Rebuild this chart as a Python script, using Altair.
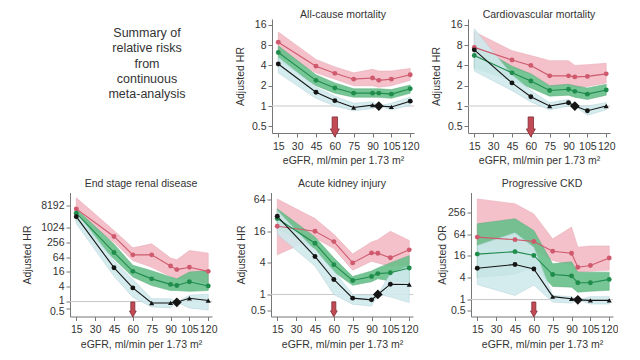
import altair as alt
import pandas as pd

# ---------------- data ----------------
egfr = [15, 45, 60, 75, 90, 95, 105, 120]
x_ticks = [15, 30, 45, 60, 75, 90, 105, 120]
summary_lines = ["Summary of", "relative risks", "from", "continuous", "meta-analysis"]

# All-cause mortality
acm_red = [8.8, 3.9, 3.05, 2.5, 2.6, 2.4, 2.5, 2.9]
acm_red_lo = [6.3, 3.1, 2.5, 2.0, 2.0, 1.9, 2.0, 2.4]
acm_red_hi = [12.5, 4.9, 3.8, 3.1, 3.5, 3.3, 3.3, 3.6]
acm_green = [6.2, 2.4, 1.85, 1.55, 1.55, 1.55, 1.5, 1.8]
acm_green_lo = [4.8, 2.0, 1.55, 1.35, 1.35, 1.35, 1.3, 1.55]
acm_green_hi = [7.8, 2.9, 2.2, 1.8, 1.8, 1.8, 1.75, 2.05]
acm_black = [4.2, 1.6, 1.2, 0.95, 1.03, 1.0, 0.97, 1.18]
acm_black_lo = [3.1, 1.3, 1.0, 0.85, 0.92, 1.0, 0.88, 1.02]
acm_black_hi = [5.3, 1.9, 1.4, 1.1, 1.15, 1.0, 1.1, 1.35]
acm_shape = ["c", "c", "c", "t", "t", "d", "t", "c"]

# Cardiovascular mortality
cvm_red = [7.4, 4.8, 4.0, 2.8, 2.8, 2.7, 2.75, 3.0]
cvm_red_lo = [5.2, 3.6, 3.0, 2.0, 2.0, 1.9, 1.95, 2.2]
cvm_red_hi = [12.6, 6.6, 5.6, 4.7, 4.7, 4.0, 4.1, 4.3]
cvm_green = [5.6, 3.1, 2.35, 1.7, 1.77, 1.65, 1.5, 1.73]
cvm_green_lo = [3.6, 2.4, 1.85, 1.4, 1.45, 1.35, 1.25, 1.45]
cvm_green_hi = [8.0, 3.9, 3.0, 2.0, 2.1, 2.0, 1.85, 2.1]
cvm_black = [6.8, 2.2, 1.37, 1.0, 1.12, 1.0, 0.85, 1.0]
cvm_black_lo = [3.3, 1.7, 1.15, 0.88, 1.0, 1.0, 0.73, 0.88]
cvm_black_hi = [14.0, 2.9, 1.7, 1.12, 1.25, 1.0, 1.0, 1.12]
cvm_shape = ["c", "c", "c", "t", "c", "d", "c", "t"]

# End stage renal disease
esrd_red = [6000, 450, 80, 80, 28, 20, 25, 17]
esrd_red_lo = [3200, 260, 47, 25, 10.5, 8.4, 9, 5.3]
esrd_red_hi = [17000, 780, 155, 225, 60, 50, 120, 94]
esrd_green = [4000, 100, 17, 8.4, 5, 4.5, 6.4, 4.3]
esrd_green_lo = [2000, 55, 10, 4.5, 2.8, 2.8, 2.6, 2.8]
esrd_green_hi = [6000, 220, 30, 18, 10, 8.4, 16, 18]
esrd_black = [2900, 24, 3.6, 0.87, 0.88, 0.93, 1.35, 1.1]
esrd_black_lo = [1500, 11, 1.5, 0.6, 0.55, 0.93, 0.55, 0.45]
esrd_black_hi = [4500, 45, 8, 1.3, 1.3, 0.93, 1.8, 2.0]
esrd_shape = ["c", "c", "c", "t", "t", "d", "t", "t"]

# Acute kidney injury
aki_red = [20, 16, 10.2, 4.0, 6.2, 6.1, 5.0, 7.1]
aki_red_lo = [5.7, 12, 7.5, 2.9, 4.3, 4.0, 3.4, 3.8]
aki_red_hi = [66, 28, 14, 5.9, 10, 11, 16, 10.7]
aki_green = [28, 9.5, 3.7, 1.85, 2.2, 2.5, 2.6, 3.2]
aki_green_lo = [18, 7.5, 2.7, 1.5, 1.75, 2.0, 1.8, 1.7]
aki_green_hi = [43, 12.5, 5.0, 2.2, 2.8, 3.2, 4.0, 5.5]
aki_black = [31, 5.3, 1.93, 0.85, 0.79, 1.0, 1.57, 1.55]
aki_black_lo = [14, 3.5, 1.0, 0.65, 0.6, 1.0, 0.9, 0.7]
aki_black_hi = [40, 7.0, 2.8, 1.0, 0.95, 1.0, 2.5, 3.5]
aki_shape = ["c", "c", "c", "c", "c", "d", "c", "t"]

# Progressive CKD
ckd_red = [53, 45, 40, 21.5, 19, 7.8, 8.7, 14]
ckd_red_lo = [30, 28, 25, 12, 9, 5.7, 6, 6.5]
ckd_red_hi = [600, 440, 230, 47, 100, 28, 30, 30]
ckd_green = [18, 21, 16.5, 4.9, 4.5, 2.9, 2.9, 3.6]
ckd_green_lo = [4, 5, 8, 2.3, 2.2, 1.6, 1.7, 1.8]
ckd_green_hi = [123, 170, 80, 9.7, 11, 5.7, 5.7, 5.7]
ckd_black = [7.3, 9.3, 7.0, 1.2, 1.05, 0.98, 0.95, 0.95]
ckd_black_lo = [2.6, 1.3, 2.5, 0.85, 0.8, 0.98, 0.75, 0.75]
ckd_black_hi = [31, 70, 28, 1.3, 1.2, 0.98, 1.2, 1.2]
ckd_shape = ["c", "c", "c", "t", "t", "d", "t", "t"]

arrow_x = 60

# ---------------- style ----------------
RED_LINE = "#cf5a6e"
GREEN_LINE = "#1f8c4c"
BLACK = "#151515"
RED_BAND = "#f3bac5"
GREEN_BAND = "#68bf8a"
BLUE_BAND = "#d1eaee"
FONT = "Liberation Sans"
ARROW_PATH = "M-0.27,-1 L0.27,-1 L0.27,0.2 L0.45,0.2 L0,1 L-0.45,0.2 L-0.27,0.2 Z"
XTITLE = "eGFR, ml/min per 1.73 m\u00b2"


def panel(title, ytitle, red, red_lo, red_hi, green, green_lo, green_hi,
          black, black_lo, black_hi, shape, ydomain, yticks, extent,
          height, arrow_y, arrow_size, title_offset, label_offset=None):
    df = pd.DataFrame({
        "egfr": egfr, "r": red, "r_lo": red_lo, "r_hi": red_hi,
        "g": green, "g_lo": green_lo, "g_hi": green_hi,
        "b": black, "b_lo": black_lo, "b_hi": black_hi, "shp": shape,
    })
    xscale = alt.Scale(domain=[10, 123], nice=False, zero=False)
    xaxis = alt.Axis(values=x_ticks, title=XTITLE, labelFlush=False,
                     tickSize=4, labelPadding=4, titlePadding=4, grid=False)
    yscale = alt.Scale(type="log", base=2, domain=ydomain, nice=False)
    yargs = dict(values=yticks, format="~g", title=ytitle, labelOverlap=False,
                 tickSize=4, labelPadding=2, titlePadding=0, grid=False,
                 minExtent=extent, maxExtent=extent)
    if label_offset:
        yargs["labelOffset"] = alt.expr(label_offset)
    yaxis = alt.Axis(**yargs)

    def X():
        return alt.X("egfr:Q", scale=xscale, axis=xaxis)

    def Y(f):
        return alt.Y(f + ":Q", scale=yscale, axis=yaxis)

    base = alt.Chart(df)
    ref = alt.Chart(pd.DataFrame({"v": [1]})).mark_rule(
        color="#c9c9c9", strokeWidth=1).encode(y=Y("v"))

    def band(lo, hi, fill, stroke):
        return base.mark_area(color=fill, opacity=0.9, stroke=stroke,
                              strokeWidth=0.6).encode(
            x=X(), y=Y(lo), y2=alt.Y2(hi + ":Q"))

    def line(f, c):
        return base.mark_line(color=c, strokeWidth=1.1).encode(x=X(), y=Y(f))

    def pts(f, c):
        return base.mark_point(filled=True, color=c, size=24, opacity=1,
                               shape="circle").encode(x=X(), y=Y(f))

    def bpts(code, shp, size):
        return base.transform_filter(alt.datum.shp == code).mark_point(
            filled=True, color=BLACK, size=size, opacity=1, shape=shp
        ).encode(x=X(), y=Y("b"))

    arrow = alt.Chart(pd.DataFrame({"egfr": [arrow_x], "v": [arrow_y]})).mark_point(
        shape=ARROW_PATH, filled=True, fill="#c24a55", stroke="#7d2b33",
        strokeWidth=0.8, size=arrow_size, opacity=1).encode(x=X(), y=Y("v"))

    layers = [
        ref,
        band("r_lo", "r_hi", RED_BAND, "#e8a6b2"),
        band("g_lo", "g_hi", GREEN_BAND, "#58ad7a"),
        band("b_lo", "b_hi", BLUE_BAND, "#b3d3d8"),
        line("r", RED_LINE), line("g", GREEN_LINE), line("b", BLACK),
        pts("r", RED_LINE), pts("g", GREEN_LINE),
        bpts("c", "circle", 24), bpts("t", "triangle-up", 26), bpts("d", "diamond", 95),
        arrow,
    ]
    return alt.layer(*layers).properties(
        width=142, height=height,
        title=alt.TitleParams(title, fontSize=10.5, fontWeight="normal",
                              color="#333333", offset=title_offset,
                              anchor="middle", font=FONT),
    )


TOP_H = 114
BOT_H = 124

p_acm = panel("All-cause mortality", "Adjusted HR", acm_red, acm_red_lo, acm_red_hi,
              acm_green, acm_green_lo, acm_green_hi, acm_black, acm_black_lo,
              acm_black_hi, acm_shape, [0.398, 19.5], [0.5, 1, 2, 4, 8, 16], 27,
              TOP_H, 0.49, 400, -1.5)
p_cvm = panel("Cardiovascular mortality", "Adjusted HR", cvm_red, cvm_red_lo, cvm_red_hi,
              cvm_green, cvm_green_lo, cvm_green_hi, cvm_black, cvm_black_lo,
              cvm_black_hi, cvm_shape, [0.398, 19.5], [0.5, 1, 2, 4, 8, 16], 27,
              TOP_H, 0.49, 400, -1.5)
p_esrd = panel("End stage renal disease", "Adjusted HR", esrd_red, esrd_red_lo, esrd_red_hi,
               esrd_green, esrd_green_lo, esrd_green_hi, esrd_black, esrd_black_lo,
               esrd_black_hi, esrd_shape, [0.245, 27950],
               [0.5, 1, 4, 16, 64, 256, 1024, 8192], 38, BOT_H, 0.47, 225, 3,
               label_offset="datum.value < 0.9 ? 3 : (datum.value < 1.5 ? -1 : 0)")
p_aki = panel("Acute kidney injury", "Adjusted HR", aki_red, aki_red_lo, aki_red_hi,
              aki_green, aki_green_lo, aki_green_hi, aki_black, aki_black_lo,
              aki_black_hi, aki_shape, [0.38, 88], [0.5, 1, 4, 16, 64], 25,
              BOT_H, 0.52, 225, 3)
p_ckd = panel("Progressive CKD", "Adjusted OR", ckd_red, ckd_red_lo, ckd_red_hi,
              ckd_green, ckd_green_lo, ckd_green_hi, ckd_black, ckd_black_lo,
              ckd_black_hi, ckd_shape, [0.34, 903], [0.5, 1, 4, 16, 64, 256], 24,
              BOT_H, 0.53, 225, 3)

summary_layers = []
for i, txt in enumerate(summary_lines):
    summary_layers.append(
        alt.Chart(pd.DataFrame({"t": [txt]})).mark_text(
            font=FONT, fontSize=12.5, align="center", baseline="middle",
            color="#333333"
        ).encode(text="t:N", x=alt.value(77), y=alt.value(14 + 15.25 * i))
    )
summary = alt.layer(*summary_layers).properties(width=153, height=TOP_H)

top = alt.hconcat(summary, p_acm, p_cvm, spacing=12)
bottom = alt.hconcat(p_esrd, p_aki, p_ckd, spacing=19)

chart = alt.vconcat(top, bottom, spacing=12.5).properties(
    padding={"left": 14, "top": 2, "right": 0, "bottom": 0}
).configure_view(stroke=None).configure_axis(
    labelFont=FONT, titleFont=FONT, labelFontSize=10.5, titleFontSize=10.5,
    titleFontWeight="normal", labelColor="#333333", titleColor="#333333",
    domainColor="#777777", tickColor="#777777"
)

chart.save("out.html", embed_options={"renderer": "svg", "actions": False})
